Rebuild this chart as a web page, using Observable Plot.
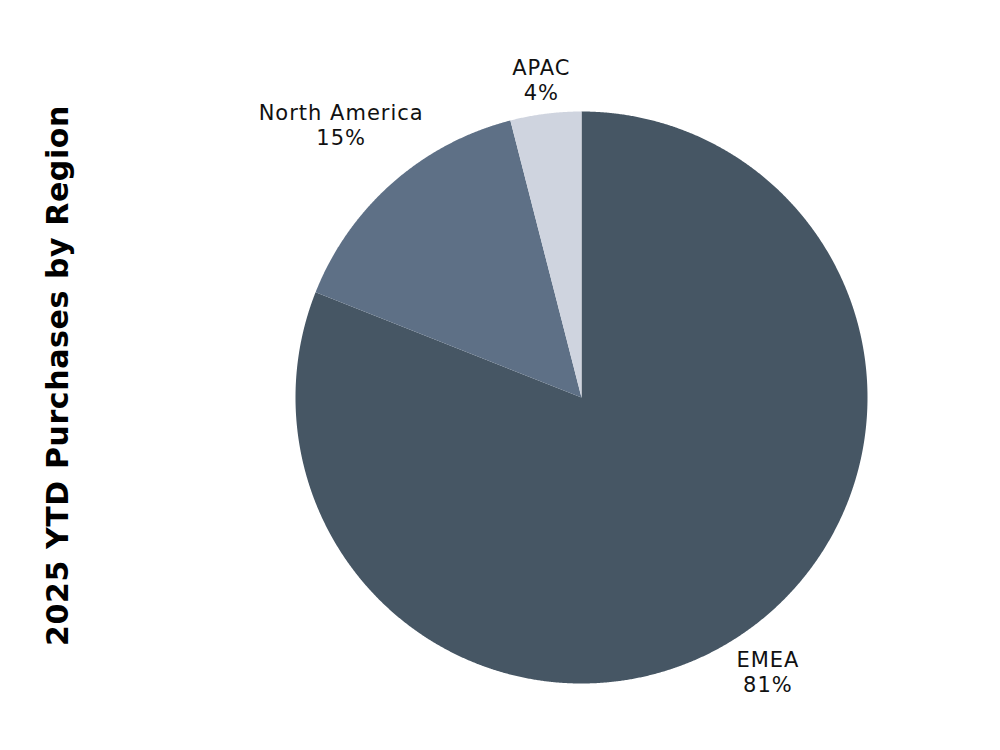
<!DOCTYPE html>
<html><head><meta charset="utf-8">
<script src="https://cdn.jsdelivr.net/npm/d3@7"></script>
<script src="https://cdn.jsdelivr.net/npm/@observablehq/plot@0.6"></script>
<style>
body{margin:0;background:#fff}
.lbl, .lbl text{letter-spacing:1px}
.ttl, .ttl text{letter-spacing:0.6px}
</style>
</head><body><div id="chart"></div>
<script>
const regions = ["EMEA", "North America", "APAC"];
const shares = [81, 15, 4];
const colors = ["#465664", "#5e7086", "#cfd4df"];
const title = "2025 YTD Purchases by Region";

const FONT = "DejaVu Sans";
const LABEL_SIZE = 21;
const LS = 1;
const W = 1000, H = 750;
const margins = {left: 295, right: 133, top: 111, bottom: 67};
const R = (W - margins.left - margins.right) / 2;

const arcs = d3.pie().sort(null).value(d => d)(shares);

// slice outlines sampled along each arc
const pts = [];
arcs.forEach((a, i) => {
  const n = Math.max(2, Math.ceil((a.endAngle - a.startAngle) / 0.004));
  pts.push({region: regions[i], x: 0, y: 0});
  for (let k = 0; k <= n; k++) {
    const t = a.startAngle + (a.endAngle - a.startAngle) * k / n;
    pts.push({region: regions[i], x: Math.sin(t), y: Math.cos(t)});
  }
  pts.push({region: regions[i], x: 0, y: 0});
});

// outside labels: nearest box corner sits just beyond the rim
const ctx = document.createElement("canvas").getContext("2d");
ctx.font = `${LABEL_SIZE}px "${FONT}"`;
const lineH = 25;
const labels = arcs.map((a, i) => {
  const text = `${regions[i]}\n${shares[i]}%`;
  const w = Math.max(...text.split("\n").map(s => ctx.measureText(s).width + s.length * LS));
  const h = lineH * 2 - 8;
  const t = (a.startAngle + a.endAngle) / 2;
  const ux = Math.sin(t), uy = Math.cos(t);
  const sx = (w / 2) * Math.sign(ux) / R, sy = (h / 2) * Math.sign(uy) / R;
  const r0 = (R + 11) / R;
  const us = ux * sx + uy * sy;
  const d = us + Math.sqrt(us * us - (sx * sx + sy * sy) + r0 * r0);
  return {text, x: d * ux, y: d * uy};
});

const chart = Plot.plot({
  width: W,
  height: H,
  marginLeft: margins.left,
  marginRight: margins.right,
  marginTop: margins.top,
  marginBottom: margins.bottom,
  x: {domain: [-1, 1], axis: null},
  y: {domain: [-1, 1], axis: null},
  color: {domain: regions, range: colors},
  style: {fontFamily: FONT, background: "#fff", color: "#111"},
  marks: [
    Plot.line(pts, {x: "x", y: "y", z: "region", fill: "region", stroke: "none", curve: "linear"}),
    Plot.text(labels, {x: "x", y: "y", text: "text", fontSize: LABEL_SIZE, lineHeight: lineH / LABEL_SIZE, lineAnchor: "middle", textAnchor: "middle", fill: "#111", className: "lbl"}),
    Plot.text([title], {frameAnchor: "left", dx: 58 - margins.left, dy: -22, rotate: -90, fontSize: 30, fontWeight: "bold", fill: "#000", textAnchor: "middle", lineAnchor: "middle", className: "ttl"})
  ]
});
document.getElementById("chart").append(chart);
</script>
</body></html>
